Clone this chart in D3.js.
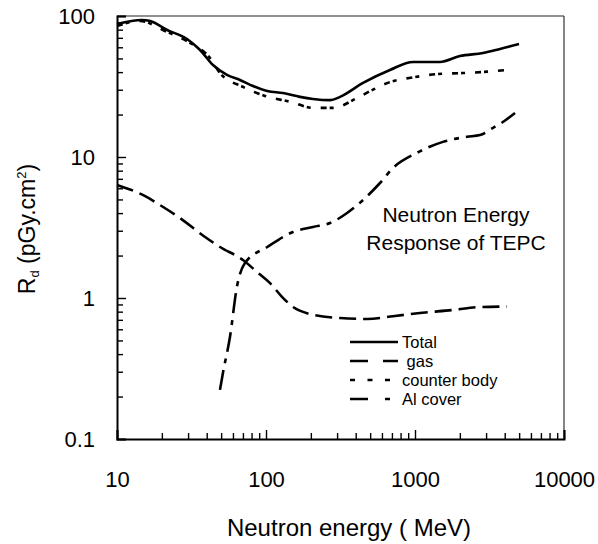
<!DOCTYPE html>
<html>
<head>
<meta charset="utf-8">
<script src="https://cdn.jsdelivr.net/npm/d3@7"></script>
<style>
  body { margin: 0; background: #fff; }
  text { font-family: "Liberation Sans", Arial, sans-serif; fill: #000; }
</style>
</head>
<body>
<script>
// neutron energy (MeV) and response R_d (pGy.cm2)
var totalE = [10, 14.7, 16.7, 21.7, 29.5, 36.1, 44.1, 54.7, 66.9, 81.8, 102, 130, 169, 207, 269, 314, 448, 679, 970, 1470, 2000, 2860, 3720, 4990];
var totalR = [87.8, 93.7, 92.1, 79.6, 68.7, 57.4, 44.9, 38.2, 35.2, 31.9, 29.4, 28.4, 26.7, 25.8, 25.3, 26.7, 33.5, 41.4, 47.2, 47.2, 52.0, 54.7, 58.4, 63.2];

var gasE = [10, 14.9, 20.4, 26.5, 39.0, 49.1, 70.1, 87.0, 106, 128, 152, 197, 314, 477, 712, 1080, 1800, 2730, 4140];
var gasR = [6.33, 5.38, 4.42, 3.69, 2.71, 2.30, 1.86, 1.53, 1.28, 1.02, 0.863, 0.770, 0.721, 0.710, 0.743, 0.783, 0.822, 0.863, 0.87];

var bodyE = [10, 14.3, 21.0, 30.9, 42.1, 49.1, 70.1, 98.4, 149, 207, 282, 408, 515, 679, 1000, 1430, 2100, 2860, 4140];
var bodyR = [84.9, 92.2, 78.3, 64.4, 50.4, 39.4, 31.4, 27.1, 24.5, 22.3, 22.3, 26.2, 29.8, 34.0, 36.9, 38.8, 39.4, 40.1, 41.4];

var alE = [49.1, 51.4, 57.3, 63.8, 72.2, 102, 152, 207, 269, 350, 448, 582, 712, 1030, 1540, 2230, 2730, 3340, 3890, 4690];
var alR = [0.223, 0.294, 0.529, 1.20, 1.77, 2.30, 2.94, 3.19, 3.40, 4.01, 4.95, 6.54, 8.36, 10.7, 12.8, 13.9, 14.3, 16.1, 17.7, 20.5];

var seriesNames = ["Total", " gas", "counter body", "Al cover"];

var xTicks = [10, 100, 1000, 10000];
var xTickLabels = ["10", "100", "1000", "10000"];
var yTicks = [0.1, 1, 10, 100];
var yTickLabels = ["0.1", "1", "10", "100"];

//Set the dimensions for the canvas
var margin = {top: 16, right: 34, bottom: 105, left: 117},
    width = 598 - margin.left - margin.right,
    height = 544 - margin.top - margin.bottom;

var x = d3.scaleLog().domain([10, 10000]).range([0, width]);
var y = d3.scaleLog().domain([0.1, 100]).range([height, 0]);

var svg = d3.select("body")
  .append("svg")
    .attr("width", 598)
    .attr("height", 544)
  .append("g")
    .attr("transform", "translate(" + margin.left + "," + margin.top + ")");

// minor ticks (every 2..9 of each decade)
function minors(lo, hi) {
  var out = [];
  for (var d = lo; d < hi; d *= 10)
    for (var k = 2; k <= 9; k++) out.push(d * k);
  return out;
}

// top and right frame
svg.append("line").attr("x1", 0).attr("x2", width).attr("y1", 0).attr("y2", 0)
  .attr("stroke", "#222").attr("stroke-width", 1.2);
svg.append("line").attr("x1", width).attr("x2", width).attr("y1", 0).attr("y2", height)
  .attr("stroke", "#333").attr("stroke-width", 1.2);

// Y axis
svg.append("g")
  .call(d3.axisLeft(y).tickValues(minors(0.1, 100)).tickSize(-6).tickFormat(""))
  .call(function(g) { g.select(".domain").remove(); });
var yAxis = svg.append("g")
  .call(d3.axisLeft(y).tickValues(yTicks).tickSize(-9).tickPadding(22)
    .tickFormat(function(d, i) { return yTickLabels[i]; }));
yAxis.select(".domain").attr("stroke-width", 2);

// X axis
svg.append("g")
  .attr("transform", "translate(0," + height + ")")
  .call(d3.axisBottom(x).tickValues(minors(10, 10000)).tickSize(-6).tickFormat(""))
  .call(function(g) { g.select(".domain").remove(); });
var xAxis = svg.append("g")
  .attr("transform", "translate(0," + height + ")")
  .call(d3.axisBottom(x).tickValues(xTicks).tickSize(-9).tickPadding(32)
    .tickFormat(function(d, i) { return xTickLabels[i]; }));
xAxis.select(".domain").attr("stroke-width", 2);

svg.selectAll(".tick line").attr("stroke-width", 1.4);
svg.selectAll(".tick text").style("font-size", "22px").attr("font-family", null);

// curves
var valueline = d3.line()
  .x(function(d) { return x(d[0]); })
  .y(function(d) { return y(d[1]); })
  .curve(d3.curveMonotoneX);

var series = [
  {E: totalE, R: totalR, dash: null, legendDash: null},
  {E: gasE, R: gasR, dash: "17,7", legendDash: "18,15"},
  {E: bodyE, R: bodyR, dash: "6,3,4,10", legendDash: "5,12.5"},
  {E: alE, R: alR, dash: "20,7,5,7", legendDash: "18,17,5,20"}
];

series.forEach(function(s) {
  svg.append("path")
    .datum(d3.zip(s.E, s.R))
    .attr("fill", "none")
    .attr("stroke", "#000")
    .attr("stroke-width", 2.6)
    .attr("stroke-dasharray", s.dash)
    .attr("d", valueline);
});

// legend
var leg = svg.append("g").attr("transform", "translate(" + (350 - margin.left) + "," + (342 - margin.top) + ")");
series.forEach(function(s, i) {
  leg.append("line")
    .attr("x1", 0).attr("x2", 48)
    .attr("y1", i * 19).attr("y2", i * 19)
    .attr("stroke", "#000").attr("stroke-width", 2.6)
    .attr("stroke-dasharray", s.legendDash);
  leg.append("text")
    .attr("x", 52).attr("y", i * 19 + 6)
    .attr("xml:space", "preserve")
    .style("white-space", "pre")
    .style("font-size", "16.5px")
    .text(seriesNames[i]);
});

// annotation
var note = svg.append("text")
  .attr("text-anchor", "middle")
  .style("font-size", "21px");
note.append("tspan").attr("x", 456 - margin.left).attr("y", 222 - margin.top).text("Neutron Energy");
note.append("tspan").attr("x", 456 - margin.left).attr("y", 250 - margin.top).text("Response of TEPC");

// axis titles
svg.append("text")
  .attr("x", 349 - margin.left)
  .attr("y", 536 - margin.top)
  .attr("text-anchor", "middle")
  .style("font-size", "24px")
  .text("Neutron energy ( MeV)");

var yt = svg.append("text")
  .attr("transform", "translate(" + (35 - margin.left) + "," + (229 - margin.top) + ") rotate(-90)")
  .attr("text-anchor", "middle")
  .style("font-size", "23px");
yt.append("tspan").text("R");
yt.append("tspan").attr("dy", 4).style("font-size", "13px").text("d");
yt.append("tspan").attr("dy", -4).text(" (pGy.cm");
yt.append("tspan").attr("dy", -9).style("font-size", "13px").text("2");
yt.append("tspan").attr("dy", 9).text(")");
</script>
</body>
</html>
